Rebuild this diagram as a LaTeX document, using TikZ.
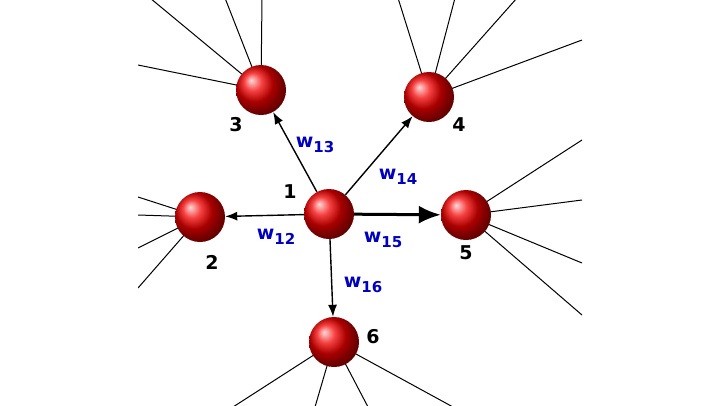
\documentclass[tikz,border=0pt]{standalone}
\usepackage{fontspec}
\setmainfont{DejaVu Sans}
\usetikzlibrary{arrows.meta}
\tikzstyle{ball}=[circle,minimum size=50pt,inner sep=0pt,ball color=red!95!black,shading=ball]
\tikzstyle{none}=[inner sep=0pt]
\tikzstyle{num}=[inner sep=0pt,font=\fontsize{19}{22}\selectfont\bfseries]
\tikzstyle{weight}=[inner sep=0pt,text=blue!75!black,font=\fontsize{19}{22}\selectfont\bfseries]
\tikzstyle{transition}=[-{Latex[length=12pt,width=9pt]},draw=black,line width=1.4pt]
\tikzstyle{strong}=[-{Latex[length=22pt,width=18pt]},draw=black,line width=3pt]
\tikzstyle{simple}=[-,draw=black,line width=1pt]
\newcommand{\wsub}[1]{w\raisebox{-5pt}{\fontsize{15}{18}\selectfont #1}}

\begin{document}
\begin{tikzpicture}[x=1pt,y=-1pt]
	\useasboundingbox (0,0) rectangle (720,405);
	\fill[white] (0,0) rectangle (720,405);
	% outer links, clipped
	\begin{scope}
		\clip (138,0) rectangle (582,405);
		\node [style=none] (a1) at (262,-2) {};
		\node [style=none] (a2) at (225,-2) {};
		\node [style=none] (a3) at (150,-2) {};
		\node [style=none] (a4) at (138,65) {};
		\node [style=none] (b1) at (398,-2) {};
		\node [style=none] (b2) at (455,-2) {};
		\node [style=none] (b3) at (517,-2) {};
		\node [style=none] (b4) at (582,40) {};
		\node [style=none] (c1) at (138,197) {};
		\node [style=none] (c2) at (138,215) {};
		\node [style=none] (c3) at (138,248) {};
		\node [style=none] (c4) at (138,288) {};
		\node [style=none] (d1) at (582,140) {};
		\node [style=none] (d2) at (582,200) {};
		\node [style=none] (d3) at (582,263) {};
		\node [style=none] (d4) at (582,315) {};
		\node [style=none] (e1) at (233,407) {};
		\node [style=none] (e2) at (315,407) {};
		\node [style=none] (e3) at (368,407) {};
		\node [style=none] (e4) at (453,407) {};
		\foreach \i in {1,...,4} {
			\draw [style=simple] (261,90) -- (a\i.center);
			\draw [style=simple] (429,97) -- (b\i.center);
			\draw [style=simple] (200,217) -- (c\i.center);
			\draw [style=simple] (466,215) -- (d\i.center);
			\draw [style=simple] (334,342) -- (e\i.center);
		}
	\end{scope}
	% balls
	\node [style=ball] (1) at (329,214) {};
	\node [style=ball] (2) at (200,217) {};
	\node [style=ball] (3) at (261,90) {};
	\node [style=ball] (4) at (429,97) {};
	\node [style=ball] (5) at (466,215) {};
	\node [style=ball] (6) at (334,342) {};
	\node [style=num] (n1) at (290,192) {1};
	\node [style=num] (n2) at (212,262) {2};
	\node [style=num] (n3) at (236,125) {3};
	\node [style=num] (n4) at (459,125) {4};
	\node [style=num] (n5) at (466,253) {5};
	\node [style=num] (n6) at (373,337) {6};
	% weighted links
	\draw [style=transition] (1) to (2);
	\draw [style=transition] (1) to (3);
	\draw [style=transition] (1) to (4);
	\draw [style=strong] (1) to (5);
	\draw [style=transition] (1) to (6);
	\node [style=weight] (w12) at (276,237) {\wsub{12}};
	\node [style=weight] (w13) at (315,145) {\wsub{13}};
	\node [style=weight] (w14) at (398,177) {\wsub{14}};
	\node [style=weight] (w15) at (383,240) {\wsub{15}};
	\node [style=weight] (w16) at (363,285) {\wsub{16}};
\end{tikzpicture}
\end{document}
